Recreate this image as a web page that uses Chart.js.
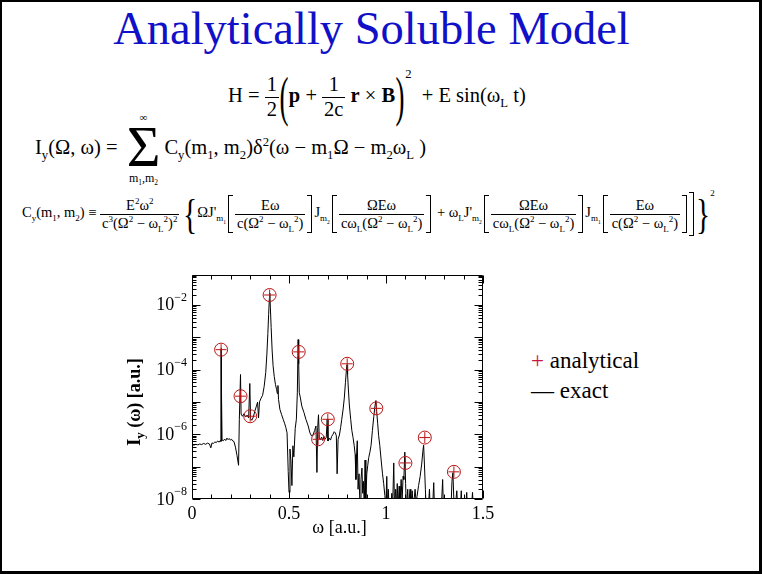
<!DOCTYPE html>
<html>
<head>
<meta charset="utf-8">
<script src="https://cdn.jsdelivr.net/npm/chart.js@4.4.1/dist/chart.umd.min.js"></script>
<style>
  html, body { margin: 0; padding: 0; background: #fff; overflow: hidden; }
  #slide { position: absolute; left: 0; top: 0; width: 757px; height: 569px; border: 2px solid #000; border-right-width: 3px; border-bottom-width: 3px; background: #fff; }
  .serif { font-family: "Liberation Serif", "Times New Roman", serif; color: #000; }
  #title { position: absolute; left: -10px; top: 5px; width: 763px; text-align: center; font-size: 46.5px; line-height: 48px; color: #1010C8; }
  .eq { position: absolute; white-space: nowrap; }
  .fr { display: inline-block; vertical-align: middle; text-align: center; }
  .fr > span { display: block; line-height: 1.15; padding: 0 2px; }
  .fr > span:first-child { border-bottom: 1px solid #000; }
  .big { display: inline-block; vertical-align: middle; }
  sub, sup { font-size: 62%; line-height: 0; }
  .sq { display: inline-block; vertical-align: middle; width: 4px; border: 1px solid #000; }
  .sqL { border-right: none; margin: 0 2px 0 2px; }
  .sqR { border-left: none; margin: 0 2px 0 2px; }
  #chartBox { position: absolute; left: 100px; top: 265px; width: 420px; height: 295px; }
  .leg { position: absolute; font-size: 23px; line-height: 23px; }
</style>
</head>
<body>
<div id="slide"></div>
<div id="title" class="serif">Analytically Soluble Model</div>

<div class="eq serif" style="left:228px; top:66px; font-size:20.5px;">
  H = <span class="fr"><span>1</span><span>2</span></span><span class="big" style="font-size:54px; transform:scaleX(0.5); margin:0 -4px;">(</span><b>p</b> + <span class="fr"><span>1</span><span>2c</span></span> <b>r</b> &#215; <b>B</b><span class="big" style="font-size:54px; transform:scaleX(0.5); margin:0 -4px;">)</span><sup style="position:relative; top:-16px;">2</sup>&nbsp;&nbsp;+ E sin(&#969;<sub>L</sub> t)
</div>

<div class="eq serif" style="left:35px; top:112px; font-size:20.5px;">
  I<sub>y</sub>(&#937;, &#969;) =
  <span class="fr" style="margin:0 2px;"><span style="border:none; font-size:11px; line-height:11px;">&#8734;</span><span style="font-size:58px; line-height:48px;">&#931;</span><span style="font-size:12px; line-height:15px;">m<sub>1</sub>,m<sub>2</sub></span></span>C<sub>y</sub>(m<sub>1</sub>, m<sub>2</sub>)&#948;<sup>2</sup>(&#969; &#8722; m<sub>1</sub>&#937; &#8722; m<sub>2</sub>&#969;<sub>L</sub> )
</div>

<div class="eq serif" style="left:22px; top:190px; font-size:14.5px;">
  C<sub>y</sub>(m<sub>1</sub>, m<sub>2</sub>) &#8801; <span class="fr"><span>E<sup>2</sup>&#969;<sup>2</sup></span><span>c<sup>3</sup>(&#937;<sup>2</sup> &#8722; &#969;<sub>L</sub><sup>2</sup>)<sup>2</sup></span></span>
  <span class="big" style="font-size:42px; transform:scaleX(0.7); margin:0 -3px;">{</span>&#937;J'<sub>m<sub>1</sub></sub><span class="sq sqL" style="height:36px;"></span><span class="fr"><span>E&#969;</span><span>c(&#937;<sup>2</sup> &#8722; &#969;<sub>L</sub><sup>2</sup>)</span></span><span class="sq sqR" style="height:36px;"></span>J<sub>m<sub>2</sub></sub><span class="sq sqL" style="height:36px;"></span><span class="fr"><span>&#937;E&#969;</span><span>c&#969;<sub>L</sub>(&#937;<sup>2</sup> &#8722; &#969;<sub>L</sub><sup>2</sup>)</span></span><span class="sq sqR" style="height:36px;"></span>
  + &#969;<sub>L</sub>J'<sub>m<sub>2</sub></sub><span class="sq sqL" style="height:36px;"></span><span class="fr"><span>&#937;E&#969;</span><span>c&#969;<sub>L</sub>(&#937;<sup>2</sup> &#8722; &#969;<sub>L</sub><sup>2</sup>)</span></span><span class="sq sqR" style="height:36px;"></span>J<sub>m<sub>1</sub></sub><span class="sq sqL" style="height:36px;"></span><span class="fr"><span>E&#969;</span><span>c(&#937;<sup>2</sup> &#8722; &#969;<sub>L</sub><sup>2</sup>)</span></span><span class="sq sqR" style="height:36px;"></span><span class="sq sqR" style="height:42px; margin-left:0;"></span><span class="big" style="font-size:42px; transform:scaleX(0.7); margin:0 -3px;">}</span><sup style="position:relative; top:-16px;">2</sup>
</div>

<div id="chartBox"><canvas id="spectrum" width="420" height="295"></canvas></div>

<div class="leg serif" style="left:531px; top:349px;"><span style="color:#CC1144;">+</span> analytical</div>
<div class="leg serif" style="left:531px; top:379px;">&#8212; exact</div>

<script>
// ---------------- Chart values -------------------------------------------
const exactOmega = [
  0.000, 0.010, 0.020, 0.030, 0.040, 0.050, 0.060, 0.070, 0.080, 0.090,
  0.097, 0.103, 0.110, 0.118, 0.125, 0.132, 0.140, 0.146, 0.149, 0.150,
  0.151, 0.153, 0.155, 0.162, 0.168, 0.174, 0.180, 0.186, 0.192, 0.198,
  0.204, 0.210, 0.216, 0.224, 0.232, 0.240, 0.244, 0.250, 0.253, 0.260,
  0.268, 0.276, 0.284, 0.292, 0.298, 0.302, 0.308, 0.316, 0.324, 0.332,
  0.338, 0.343, 0.348, 0.356, 0.364, 0.372, 0.380, 0.386, 0.391, 0.395,
  0.399, 0.401, 0.404, 0.408, 0.413, 0.418, 0.424, 0.430, 0.436, 0.440,
  0.443, 0.446, 0.453, 0.462, 0.470, 0.477, 0.484, 0.490, 0.496, 0.500,
  0.505, 0.510, 0.515, 0.520, 0.525, 0.532, 0.538, 0.543, 0.547, 0.550,
  0.553, 0.558, 0.566, 0.577, 0.587, 0.599, 0.608, 0.616, 0.624, 0.632,
  0.639, 0.644, 0.648, 0.652, 0.656, 0.662, 0.668, 0.674, 0.680, 0.686,
  0.692, 0.697, 0.701, 0.707, 0.714, 0.720, 0.727, 0.733, 0.739, 0.744,
  0.748, 0.753, 0.760, 0.766, 0.772, 0.779, 0.785, 0.791, 0.796, 0.799,
  0.802, 0.806, 0.811, 0.818, 0.824, 0.830, 0.836, 0.841, 0.845, 0.849,
  0.852, 0.856, 0.861, 0.866, 0.871, 0.876, 0.880, 0.884, 0.888, 0.892,
  0.896, 0.901, 0.906, 0.911, 0.917, 0.923, 0.930, 0.937, 0.943, 0.948,
  0.952, 0.957, 0.962, 0.968, 0.975, 0.982, 0.988, 0.994, 0.999, 1.004,
  1.008, 1.012, 1.016, 1.025, 1.030, 1.034, 1.040, 1.044, 1.050, 1.054,
  1.058, 1.062, 1.068, 1.072, 1.078, 1.083, 1.088, 1.092, 1.097, 1.101,
  1.105, 1.112, 1.116, 1.124, 1.128, 1.135, 1.140, 1.150, 1.155, 1.160,
  1.168, 1.176, 1.184, 1.190, 1.194, 1.198, 1.203, 1.207, 1.218, 1.224,
  1.228, 1.240, 1.246, 1.250, 1.285, 1.292, 1.296, 1.335, 1.340, 1.345,
  1.350, 1.356, 1.365, 1.370, 1.383, 1.388, 1.392, 1.410, 1.416, 1.420,
  1.440, 1.446, 1.450, 1.500
] ;

const exactIntensity = [
  4.8e-7, 4.6e-7, 4.9e-7, 4.7e-7, 5.0e-7, 4.8e-7, 5.2e-7, 4.9e-7, 5.3e-7, 5.0e-7,
  3.8e-7, 5.4e-7, 5.2e-7, 5.8e-7, 5.5e-7, 6.2e-7, 5.7e-7, 6.4e-7, 6.0e-7, 4.4e-4,
  6.2e-7, 1.9e-5, 6.6e-7, 6.3e-7, 7.1e-7, 6.4e-7, 7.6e-7, 6.8e-7, 7.4e-7, 6.6e-7,
  7.0e-7, 6.2e-7, 6.0e-7, 4.0e-7, 2.2e-7, 1.1e-7, 2.9e-6, 7.0e-5, 4.2e-6, 3.6e-6,
  4.3e-6, 3.4e-6, 3.9e-6, 3.2e-6, 3.7e-5, 3.0e-6, 2.7e-6, 3.4e-6, 5.2e-6, 7.4e-6,
  9.8e-6, 3.2e-6, 1.0e-5, 1.3e-5, 1.6e-5, 3.0e-5, 8.0e-5, 3.0e-4, 1.3e-3, 5.0e-3,
  1.6e-2, 2.3e-2, 8.0e-3, 2.0e-3, 4.0e-4, 1.3e-4, 6.0e-5, 3.5e-5, 2.4e-5, 1.8e-5,
  3.2e-5, 1.2e-5, 5.9e-6, 4.0e-6, 2.9e-6, 2.2e-6, 1.6e-6, 1.1e-6, 7.0e-8, 1.6e-8,
  3.5e-7, 1.5e-7, 2.6e-8, 4.4e-7, 2.0e-7, 1.5e-6, 2.9e-6, 1.9e-5, 8.4e-4, 1.5e-4,
  1.9e-5, 1.4e-5, 7.4e-6, 4.7e-6, 2.9e-6, 1.8e-6, 1.1e-6, 8.9e-7, 9.5e-7, 1.3e-6,
  1.8e-6, 6.6e-8, 1.6e-6, 4.0e-6, 7.5e-7, 6.8e-7, 8.2e-7, 6.4e-7, 8.5e-7, 7.0e-7,
  8.0e-7, 2.9e-6, 6.2e-7, 7.6e-7, 6.6e-7, 8.6e-7, 1.0e-6, 1.2e-6, 1.1e-6, 9.0e-7,
  6.0e-8, 7.0e-7, 9.5e-7, 1.6e-6, 2.9e-6, 6.0e-6, 1.3e-5, 4.0e-5, 1.0e-4, 1.4e-4,
  7.0e-5, 2.5e-5, 8.0e-6, 2.9e-6, 1.3e-6, 8.0e-7, 4.5e-7, 2.4e-7, 4.0e-8, 3.0e-7,
  6.3e-7, 2.0e-8, 6.0e-8, 5.0e-9, 4.0e-8, 9.0e-8, 1.5e-8, 3.5e-8, 5.0e-9, 1.6e-7,
  1.0e-8, 6.0e-8, 1.1e-7, 1.9e-7, 2.8e-7, 4.5e-7, 1.3e-6, 3.5e-6, 7.4e-6, 1.1e-5,
  5.0e-6, 2.2e-6, 9.0e-7, 4.5e-7, 1.6e-7, 6.0e-8, 3.0e-8, 1.3e-8, 5.0e-9, 5.0e-8,
  5.0e-9, 2.0e-8, 5.0e-9, 5.0e-9, 1.5e-8, 5.0e-9, 1.3e-7, 5.0e-9, 2.0e-8, 5.0e-9,
  3.0e-8, 5.0e-9, 2.5e-8, 5.0e-9, 4.0e-8, 8.0e-9, 5.0e-8, 4.0e-8, 2.8e-7, 3.0e-8,
  5.0e-9, 2.0e-8, 5.0e-9, 2.0e-8, 5.0e-9, 1.8e-8, 5.0e-9, 2.0e-8, 8.0e-9, 1.2e-8,
  2.6e-8, 5.0e-8, 1.2e-7, 3.0e-7, 4.6e-7, 1.2e-7, 2.0e-8, 5.0e-9, 5.0e-9, 2.0e-8,
  5.0e-9, 5.0e-9, 3.2e-8, 5.0e-9, 5.0e-9, 4.0e-8, 5.0e-9, 5.0e-9, 3.5e-8, 6.5e-8,
  8.0e-9, 5.0e-9, 1.8e-8, 5.0e-9, 5.0e-9, 1.8e-8, 5.0e-9, 5.0e-9, 1.6e-8, 5.0e-9,
  5.0e-9, 1.6e-8, 5.0e-9, 5.0e-9
] ;

const analyticOmega     = [ 0.15, 0.25, 0.30, 0.40, 0.55, 0.65, 0.70, 0.80, 0.95, 1.10, 1.20, 1.35 ] ;
const analyticIntensity = [ 4.1e-4, 1.5e-5, 3.6e-6, 2.0e-2, 3.5e-4, 7.0e-7, 2.9e-6, 1.5e-4, 6.3e-6, 1.3e-7, 7.9e-7, 6.9e-8 ] ;

const xTickValues   = [ 0, 0.5, 1, 1.5 ] ;
const xMinorStep    = 0.1 ;
const yLabelPowers  = [ -8, -6, -4, -2 ] ;
const yDecadePowers = [ -8, -7, -6, -5, -4, -3, -2 ] ;

const X_MIN = 0 ;
const X_MAX = 1.5 ;
const Y_MIN = 1e-8 ;
const Y_MAX = 0.083 ;

const MARKER_COLOR = '#B81414' ;
const SERIF        = '"Liberation Serif", "Times New Roman", serif' ;

// ---------------- Helpers -------------------------------------------------
function toPoints( xs, ys ) {
    return xs.map( ( x, i ) => ( { x: x, y: ys[i] } ) ) ;
}

// Frame, inward tick marks, 10^n labels and axis titles
const axisDecor = {
    id: 'axisDecor',
    afterDraw( chart ) {
        const ctx  = chart.ctx ;
        const area = chart.chartArea ;
        const xs   = chart.scales.x ;
        const ys   = chart.scales.y ;
        const L = Math.round( area.left ) + 0.5 ;
        const R = Math.round( area.right ) - 0.5 ;
        const T = Math.round( area.top ) + 0.5 ;
        const B = Math.round( area.bottom ) - 0.5 ;

        ctx.save() ;
        ctx.strokeStyle = '#000' ;
        ctx.lineWidth = 1 ;
        ctx.beginPath() ;
        ctx.rect( L, T, R - L, B - T ) ;

        // y ticks on left and right
        yDecadePowers.forEach( p => {
            for( let k = 1; k <= 9; k++ ) {
                const v = k * Math.pow( 10, p ) ;
                if( v > Y_MAX ) break ;
                const y = Math.round( ys.getPixelForValue( v ) ) + 0.5 ;
                const len = ( k == 1 ) ? 8 : 4 ;
                ctx.moveTo( L, y ) ; ctx.lineTo( L + len, y ) ;
                ctx.moveTo( R, y ) ; ctx.lineTo( R - len, y ) ;
            }
        } ) ;

        // x ticks on bottom and top
        const nSteps = Math.round( ( X_MAX - X_MIN ) / xMinorStep ) ;
        for( let i = 0; i <= nSteps; i++ ) {
            const v = X_MIN + i * xMinorStep ;
            const x = Math.round( xs.getPixelForValue( v ) ) + 0.5 ;
            const len = ( i % 5 == 0 ) ? 8 : 4 ;
            ctx.moveTo( x, B ) ; ctx.lineTo( x, B - len ) ;
            ctx.moveTo( x, T ) ; ctx.lineTo( x, T + len ) ;
        }
        ctx.stroke() ;

        // y labels: 10 with raised exponent
        ctx.fillStyle = '#000' ;
        ctx.textBaseline = 'middle' ;
        yLabelPowers.forEach( p => {
            const y = ys.getPixelForValue( Math.pow( 10, p ) ) ;
            const expText = String( p ).replace( '-', '\u2212' ) ;
            ctx.font = '12px ' + SERIF ;
            const ew = ctx.measureText( expText ).width ;
            ctx.textAlign = 'left' ;
            ctx.fillText( expText, area.left - 5 - ew, y - 7 ) ;
            ctx.font = '18px ' + SERIF ;
            ctx.textAlign = 'right' ;
            ctx.fillText( '10', area.left - 5 - ew, y + 1 ) ;
        } ) ;

        // x axis title
        ctx.font = '18px ' + SERIF ;
        ctx.textAlign = 'center' ;
        ctx.fillText( '\u03C9 [a.u.]', ( area.left + area.right ) / 2 + 2, area.bottom + 29 ) ;

        // y axis title with subscript, rotated
        const partA = 'I' ;
        const partSub = 'y' ;
        const partB = ' (\u03C9) [a.u.]' ;
        ctx.font = 'bold 18px ' + SERIF ;
        const wA = ctx.measureText( partA ).width ;
        const wB = ctx.measureText( partB ).width ;
        ctx.font = 'bold 13px ' + SERIF ;
        const wS = ctx.measureText( partSub ).width ;
        const total = wA + wS + wB ;
        ctx.translate( area.left - 57, ( area.top + area.bottom ) / 2 + 15 ) ;
        ctx.rotate( -Math.PI / 2 ) ;
        ctx.textAlign = 'left' ;
        let cx = -total / 2 ;
        ctx.font = 'bold 18px ' + SERIF ;
        ctx.fillText( partA, cx, 0 ) ; cx += wA ;
        ctx.font = 'bold 13px ' + SERIF ;
        ctx.fillText( partSub, cx, 6 ) ; cx += wS ;
        ctx.font = 'bold 18px ' + SERIF ;
        ctx.fillText( partB, cx, 0 ) ;
        ctx.restore() ;
    }
} ;

// ---------------- Chart ---------------------------------------------------
const data = {
    datasets: [
        {
            type             : 'scatter',
            data             : toPoints( analyticOmega, analyticIntensity ),
            pointStyle       : 'circle',
            pointRadius      : 6.5,
            borderColor      : MARKER_COLOR,
            backgroundColor  : 'rgba(0,0,0,0)',
            pointBorderWidth : 1,
        },
        {
            type             : 'scatter',
            data             : toPoints( analyticOmega, analyticIntensity ),
            pointStyle       : 'cross',
            pointRadius      : 5.5,
            borderColor      : MARKER_COLOR,
            backgroundColor  : MARKER_COLOR,
            pointBorderWidth : 1,
        },
        {
            type             : 'line',
            data             : toPoints( exactOmega, exactIntensity ),
            borderColor      : '#000',
            borderWidth      : 1,
            pointRadius      : 0,
            tension          : 0,
        },
    ]
} ;

const options = {
    responsive : false,
    animation  : false,
    devicePixelRatio : 1,
    layout : { padding : { left: 0, right: 37, top: 10, bottom: 0 } },
    plugins : {
        legend  : { display: false },
        tooltip : { enabled: false },
    },
    scales : {
        x : {
            type   : 'linear',
            min    : X_MIN,
            max    : X_MAX,
            grid   : { display: false, drawTicks: false },
            border : { display: false },
            ticks  : {
                color    : '#000',
                font     : { family: SERIF, size: 18 },
                padding  : 4,
                maxRotation : 0,
                autoSkip : false,
                callback : v => String( v ),
            },
            afterBuildTicks : s => { s.ticks = xTickValues.map( v => ( { value: v } ) ) ; },
            afterFit : s => { s.height = 61 ; },
        },
        y : {
            type   : 'logarithmic',
            min    : Y_MIN,
            max    : Y_MAX,
            grid   : { display: false, drawTicks: false },
            border : { display: false },
            ticks  : { display: false },
            afterFit : s => { s.width = 92 ; },
        }
    }
} ;

new Chart( document.getElementById( 'spectrum' ), {
    data    : data,
    options : options,
    plugins : [ axisDecor ]
} ) ;
</script>
</body>
</html>
